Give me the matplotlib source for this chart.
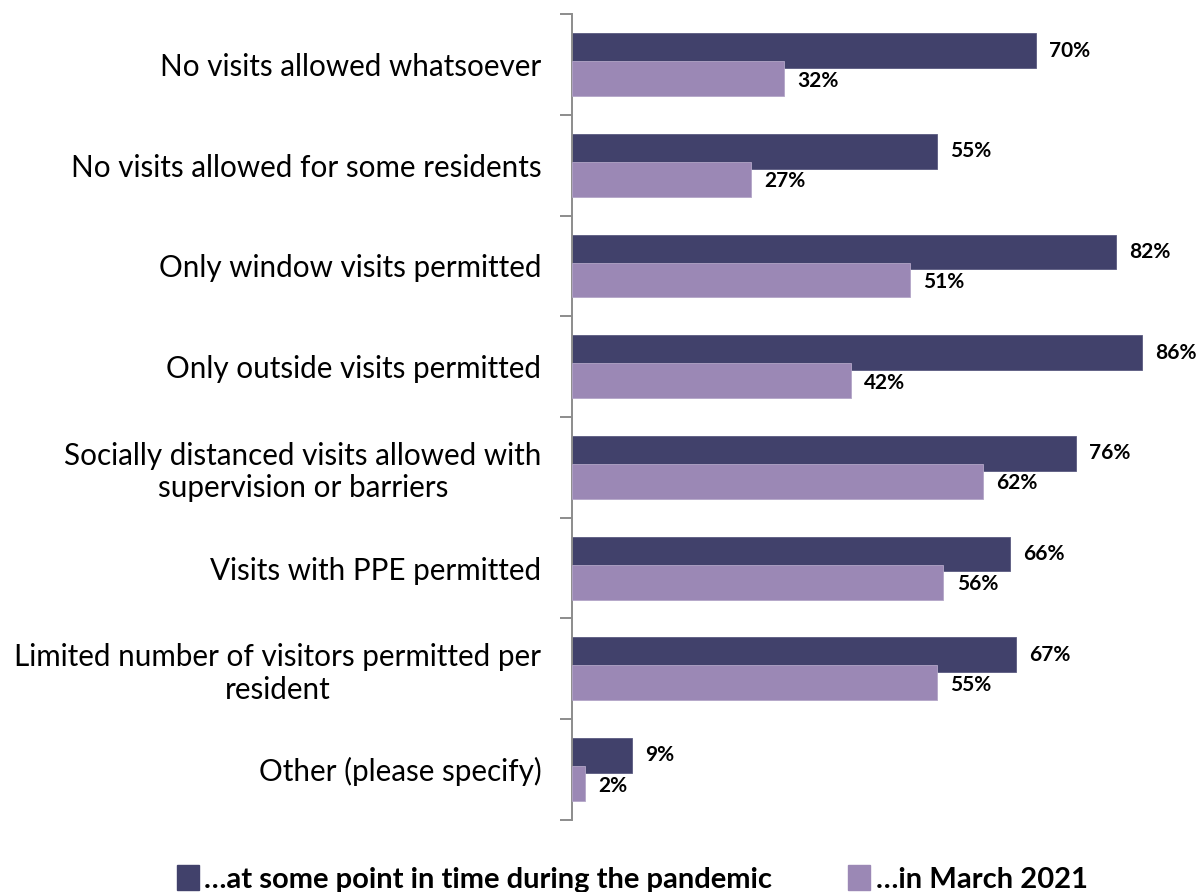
import numpy as np
import matplotlib
matplotlib.use("Agg")
import matplotlib.pyplot as plt
from matplotlib.patches import Patch

plt.rcParams['font.family'] = ['Lato', 'DejaVu Sans']

categories = [
    "No visits allowed whatsoever",
    "No visits allowed for some residents",
    "Only window visits permitted",
    "Only outside visits permitted",
    "Socially distanced visits allowed with\nsupervision or barriers",
    "Visits with PPE permitted",
    "Limited number of visitors permitted per\nresident",
    "Other (please specify)",
]
during_pandemic = [70, 55, 82, 86, 76, 66, 67, 9]
march_2021 = [32, 27, 51, 42, 62, 56, 55, 2]
series_names = ["\u2026at some point in time during the pandemic", "\u2026in March 2021"]

dark = "#41416b"
light = "#9b88b5"

fig = plt.figure(figsize=(12, 8.92), dpi=100)
ax = fig.add_axes([0.4767, 0.081, 0.5233, 0.903])

y = np.arange(len(categories))
h = 0.345
# the March bar sits slightly over the lower edge of the pandemic bar
ax.barh(y - 0.14, during_pandemic, height=h, color=dark, edgecolor="#5a5a80", linewidth=0.6, zorder=2)
ax.barh(y + 0.14, march_2021, height=h, color=light, edgecolor="#b3a6c8", linewidth=0.6, zorder=3)

for yi, v in zip(y, during_pandemic):
    ax.text(v + 2.0, yi - 0.14, f"{v}%", va="center", ha="left",
            fontsize=15, fontweight="bold", color="black")
for yi, v in zip(y, march_2021):
    ax.text(v + 2.0, yi + 0.16, f"{v}%", va="center", ha="left",
            fontsize=15, fontweight="bold", color="black")

ax.set_xlim(0, 94.7)
ax.set_ylim(len(categories) - 0.5, -0.5)

ax.set_yticks(y)
ax.set_yticklabels(categories, fontsize=21.3, multialignment="center")
ax.tick_params(axis="y", which="major", length=0, pad=22)
ax.set_yticks(np.arange(len(categories) + 1) - 0.5, minor=True)
ax.tick_params(axis="y", which="minor", length=9, width=1.4, color="#8c8c8c", direction="out")
ax.set_xticks([])

for side in ["top", "right", "bottom"]:
    ax.spines[side].set_visible(False)
ax.spines["left"].set_color("#8c8c8c")
ax.spines["left"].set_linewidth(1.4)

handles = [Patch(facecolor=dark, edgecolor=dark), Patch(facecolor=light, edgecolor=light)]
fig.legend(handles, series_names, loc="lower center", bbox_to_anchor=(0.527, -0.03),
           ncol=2, frameon=False, prop={"size": 21, "weight": "bold"},
           handlelength=0.75, handleheight=0.95, handletextpad=0.2, columnspacing=2.6)

fig.savefig("out.png", dpi=100)
